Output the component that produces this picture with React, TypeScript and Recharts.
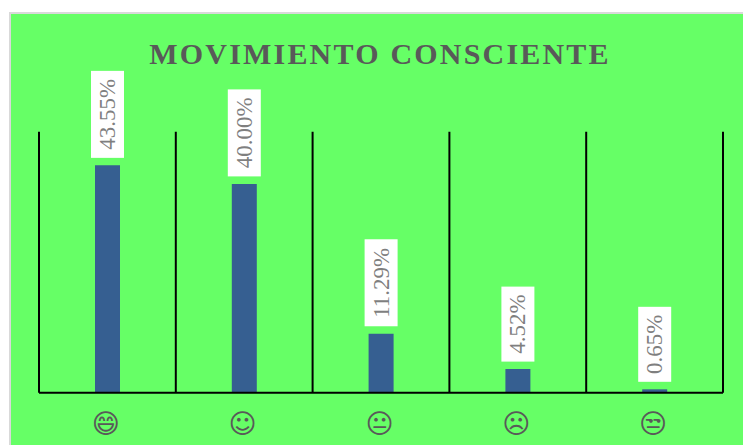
import { BarChart, Bar, XAxis, YAxis, CartesianGrid, LabelList } from "recharts";

const faces = ["😄", "☺", "😐", "☹", "😒"];
const percents = [43.55, 40.0, 11.29, 4.52, 0.65];
const title = "MOVIMIENTO CONSCIENTE";

const rows = faces.map((face, i) => ({ face, percent: percents[i] }));

const FaceTick = ({ x, y, payload }: any) => (
  <text
    x={x - 1.5}
    y={y + 32}
    textAnchor="middle"
    fontFamily="DejaVu Sans"
    fontSize={27}
    fill="#595959"
  >
    {payload.value + "\uFE0E"}
  </text>
);

const PercentLabel = ({ x, y, width, value }: any) => {
  const text = `${Number(value).toFixed(2)}%`;
  const boxH = text.length > 5 ? 87 : 75;
  const cx = x + width / 2;
  const bottom = y - 7.5;
  const mid = bottom - boxH / 2;
  return (
    <g>
      <rect x={cx - 16.5} y={bottom - boxH} width={33} height={boxH} fill="#ffffff" />
      <text
        x={cx}
        y={mid}
        transform={`rotate(-90 ${cx} ${mid})`}
        textAnchor="middle"
        dominantBaseline="central"
        fontFamily="Liberation Serif"
        fontSize={23}
        fill="#7f7f7f"
      >
        {text}
      </text>
    </g>
  );
};

// dividers sit on the band edges, not on the tick centres
const bandEdges = ({ offset }: any) =>
  [0, 1, 2, 3, 4, 5].map((i) => offset.left + (i * offset.width) / faces.length);

export default function App() {
  return (
    <div style={{ position: "absolute", left: 0, top: 0, width: 743, height: 445, overflow: "hidden", background: "#fff" }}>
      <div
        style={{
          position: "absolute",
          left: 9,
          top: 12,
          width: 734,
          height: 433,
          boxSizing: "border-box",
          borderLeft: "2px solid #d9d9d9",
          borderTop: "2px solid #d9d9d9",
          background: "#66ff66",
        }}
      />
      <div style={{ position: "absolute", left: 0, top: 0 }}>
        <BarChart
          width={743}
          height={445}
          data={rows}
          margin={{ top: 131.7, right: 20, bottom: 0, left: 39 }}
        >
          <CartesianGrid
            horizontal={false}
            stroke="#000000"
            strokeWidth={2}
            verticalCoordinatesGenerator={bandEdges}
          />
          <XAxis
            dataKey="face"
            height={52.3}
            interval={0}
            tickLine={false}
            axisLine={{ stroke: "#000000", strokeWidth: 2 }}
            tick={<FaceTick />}
          />
          <YAxis hide domain={[0, 50]} />
          <Bar dataKey="percent" fill="#365f91" barSize={25} isAnimationActive={false}>
            <LabelList dataKey="percent" content={<PercentLabel />} />
          </Bar>
          <text
            x={380}
            y={64}
            textAnchor="middle"
            fontFamily="Liberation Serif"
            fontWeight="bold"
            fontSize={30}
            letterSpacing={2.2}
            fill="#595959"
          >
            {title}
          </text>
        </BarChart>
      </div>
    </div>
  );
}
